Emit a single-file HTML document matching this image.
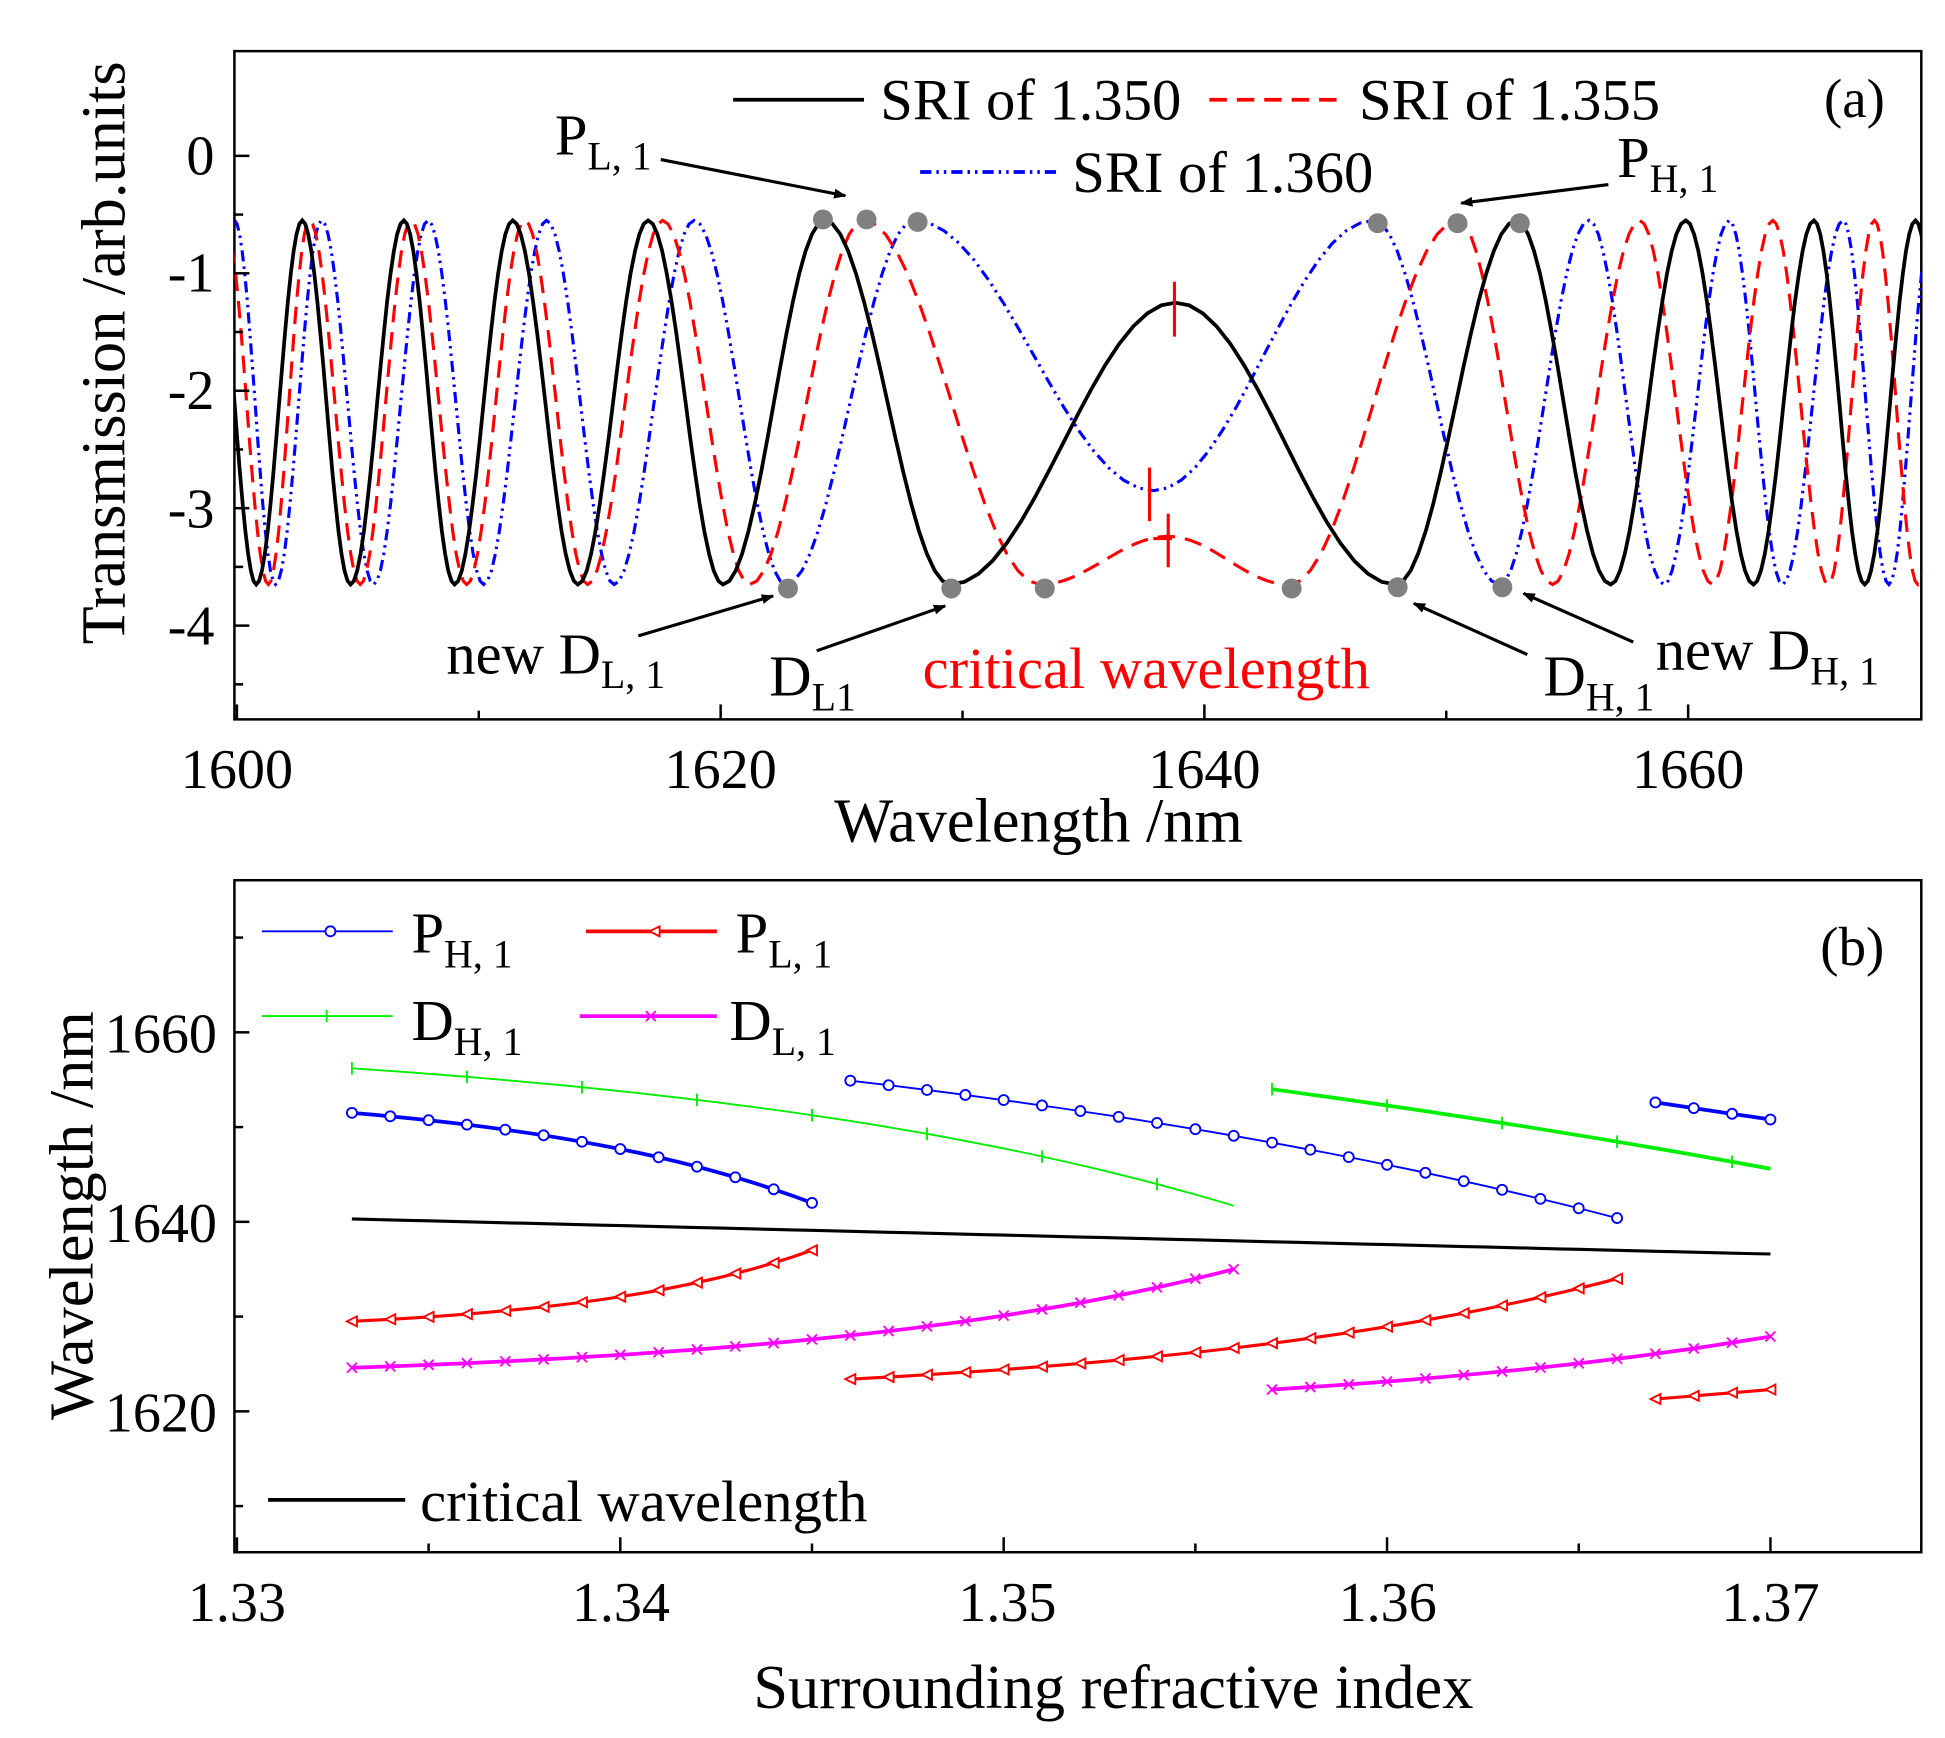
<!DOCTYPE html>
<html><head><meta charset="utf-8">
<style>
html,body{margin:0;padding:0;background:#fff;}
svg{display:block;font-family:"Liberation Serif","Times New Roman",serif;}
svg text{font-family:"Liberation Serif","Times New Roman",serif;}
</style></head>
<body>
<svg id="s" width="1945" height="1738" viewBox="0 0 1560 1394" xmlns="http://www.w3.org/2000/svg" font-family="Liberation Serif, serif">
<defs>
<clipPath id="ca"><rect x="188" y="41" width="1353" height="536"/></clipPath>
<marker id="ah" markerWidth="10" markerHeight="8" refX="9" refY="4" orient="auto" markerUnits="userSpaceOnUse"><path d="M0,0 L10,4 L0,8 z" fill="#000"/></marker>
</defs>
<rect x="0" y="0" width="1560" height="1394" fill="#fff"/>
<rect x="188" y="41" width="1353" height="536" fill="none" stroke="#000" stroke-width="2"/>
<g id="a_curves" clip-path="url(#ca)"></g>
<g id="a_ticks" stroke="#000" stroke-width="2"></g>
<g font-size="45" text-anchor="end">
<text x="172" y="140">0</text><text x="172" y="234">-1</text><text x="172" y="328">-2</text><text x="172" y="423">-3</text><text x="172" y="517">-4</text>
</g>
<g font-size="45" text-anchor="middle">
<text x="190" y="632">1600</text><text x="578" y="632">1620</text><text x="966" y="632">1640</text><text x="1354" y="632">1660</text>
</g>
<text x="833" y="675" font-size="50" text-anchor="middle">Wavelength /nm</text>
<text font-size="50" text-anchor="middle" transform="translate(100,283) rotate(-90)">Transmission /arb.units</text>
<line x1="588" y1="80" x2="693" y2="80" stroke="#000" stroke-width="3"/>
<text x="706" y="96" font-size="47">SRI of 1.350</text>
<line x1="970" y1="80" x2="1075" y2="80" stroke="#f00" stroke-width="3" stroke-dasharray="14,8"/>
<text x="1090" y="96" font-size="47">SRI of 1.355</text>
<line x1="738" y1="138" x2="848" y2="138" stroke="#00f" stroke-width="3" stroke-dasharray="9,4,2,4,2,4"/>
<text x="860" y="154" font-size="47">SRI of 1.360</text>
<text x="1463" y="94" font-size="44">(a)</text>
<g stroke="#f00" stroke-width="2.5">
<line x1="942" y1="226" x2="942" y2="270"/>
<line x1="922" y1="375" x2="922" y2="418"/>
<line x1="937" y1="412" x2="937" y2="455"/>
<line x1="925" y1="432" x2="940" y2="432"/>
</g>
<g fill="#808080">
<circle cx="660" cy="176" r="8"/><circle cx="695" cy="176" r="8"/><circle cx="736" cy="178" r="8"/>
<circle cx="632" cy="472" r="8"/><circle cx="763" cy="472" r="8"/><circle cx="838" cy="472" r="8"/>
<circle cx="1036" cy="472" r="8"/><circle cx="1121" cy="471" r="8"/><circle cx="1205" cy="471" r="8"/>
<circle cx="1105" cy="179" r="8"/><circle cx="1169" cy="179" r="8"/><circle cx="1219" cy="179" r="8"/>
</g>
<g stroke="#000" stroke-width="2.5" marker-end="url(#ah)">
<line x1="530" y1="128" x2="678" y2="157"/>
<line x1="1290" y1="148" x2="1172" y2="163"/>
<line x1="512" y1="510" x2="620" y2="478"/>
<line x1="655" y1="522" x2="758" y2="486"/>
<line x1="1225" y1="525" x2="1134" y2="484"/>
<line x1="1310" y1="515" x2="1222" y2="476"/>
</g>
<g font-size="47">
<text x="445" y="124">P<tspan font-size="32" dy="12">L, 1</tspan></text>
<text x="1297" y="142">P<tspan font-size="32" dy="12">H, 1</tspan></text>
<text x="358" y="540">new D<tspan font-size="32" dy="12">L, 1</tspan></text>
<text x="617" y="558">D<tspan font-size="32" dy="12">L1</tspan></text>
<text x="740" y="552" fill="#f00">critical wavelength</text>
<text x="1238" y="558">D<tspan font-size="32" dy="12">H, 1</tspan></text>
<text x="1328" y="537">new D<tspan font-size="32" dy="12">H, 1</tspan></text>
</g>
<rect x="188" y="706" width="1353" height="539" fill="none" stroke="#000" stroke-width="2"/>
<g id="b_ticks" stroke="#000" stroke-width="2"></g>
<g id="b_curves"></g>
<g font-size="45" text-anchor="end">
<text x="174" y="844">1660</text><text x="174" y="996">1640</text><text x="174" y="1148">1620</text>
</g>
<g font-size="45" text-anchor="middle">
<text x="190" y="1300">1.33</text><text x="498" y="1300">1.34</text><text x="808" y="1300">1.35</text><text x="1113" y="1300">1.36</text><text x="1420" y="1300">1.37</text>
</g>
<text x="893" y="1370" font-size="50" text-anchor="middle">Surrounding refractive index</text>
<text font-size="50" text-anchor="middle" transform="translate(74,975) rotate(-90)">Wavelength /nm</text>
<text x="1460" y="774" font-size="44">(b)</text>
<g id="b_leg"></g>
<g font-size="47">
<text x="330" y="764">P<tspan font-size="32" dy="12">H, 1</tspan></text>
<text x="590" y="764">P<tspan font-size="32" dy="12">L, 1</tspan></text>
<text x="330" y="834">D<tspan font-size="32" dy="12">H, 1</tspan></text>
<text x="585" y="834">D<tspan font-size="32" dy="12">L, 1</tspan></text>
<text x="337" y="1220">critical wavelength</text>
</g>
<line x1="215" y1="1203" x2="325" y2="1203" stroke="#000" stroke-width="3"/>
</svg>
<script>
(function(){
var NS="http://www.w3.org/2000/svg";
function el(p,tag,at){var e=document.createElementNS(NS,tag);for(var k in at)e.setAttribute(k,at[k]);p.appendChild(e);return e;}
var X=function(l){return 190+(l-1600)*19.4;}, Y=function(v){return 125-v*94.2;};
var T=-0.55,B=-3.65;
var blk=[[1599.0,T],[1600.8,B],[1602.7,T],[1604.7,B],[1606.9,T],[1609.0,B],[1611.4,T],[1614.1,B],[1617.0,T],[1620.1,B],[1624.3,T],[1629.5,B],[1638.8,-1.25],[1647.9,B],[1652.9,T],[1656.8,B],[1659.9,T],[1662.7,B],[1665.2,T],[1667.3,B],[1669.4,T],[1671.3,B]];
var red=[[1599.5,T],[1601.3,B],[1603.0,T],[1605.1,B],[1607.2,T],[1609.5,B],[1611.9,T],[1614.5,B],[1617.6,T],[1621.2,B],[1625.9,T],[1633.2,B],[1638.5,-3.24],[1643.5,B],[1650.5,T],[1654.4,B],[1658.0,T],[1661.0,B],[1663.5,T],[1665.8,B],[1667.7,T],[1669.5,B],[1671.3,T]];
var blu=[[1599.9,T],[1601.6,B],[1603.5,T],[1605.65,B],[1607.9,T],[1610.2,B],[1612.8,T],[1615.6,B],[1618.9,T],[1622.7,B],[1628.0,T],[1637.9,-2.85],[1647.0,T],[1652.2,B],[1655.9,T],[1659.0,B],[1661.7,T],[1663.9,B],[1666.4,T],[1668.3,B],[1670.1,T]];
function path(ext){var d="";for(var i=0;i<ext.length-1;i++){var a=ext[i],b=ext[i+1];for(var j=0;j<=16;j++){var t=j/16;var l=a[0]+(b[0]-a[0])*t;var v=a[1]+(b[1]-a[1])*(1-Math.cos(Math.PI*t))/2;d+=(d?"L":"M")+X(l).toFixed(1)+","+Y(v).toFixed(1);}}return d;}
var g=document.getElementById("a_curves");
el(g,"path",{d:path(blu),fill:"none",stroke:"#00f","stroke-width":2.5,"stroke-dasharray":"9,4,2,4,2,4"});
el(g,"path",{d:path(red),fill:"none",stroke:"#f00","stroke-width":2.5,"stroke-dasharray":"14,8"});
el(g,"path",{d:path(blk),fill:"none",stroke:"#000","stroke-width":3});
var tk=document.getElementById("a_ticks");
for(var v=0;v>=-4;v--){el(tk,"line",{x1:188,y1:Y(v),x2:200,y2:Y(v)});el(tk,"line",{x1:188,y1:Y(v-0.5),x2:195,y2:Y(v-0.5)});}
for(var l=1600;l<=1660;l+=10){var big=(l%20==0);el(tk,"line",{x1:X(l),y1:577,x2:X(l),y2:big?565:570});}
var XB=function(n){return 190+(n-1.33)*30750;}, YB=function(w){return 980-(w-1640)*7.6;};
var bt=document.getElementById("b_ticks");
for(var w=1620;w<=1660;w+=20){el(bt,"line",{x1:188,y1:YB(w),x2:200,y2:YB(w)});el(bt,"line",{x1:188,y1:YB(w+10),x2:195,y2:YB(w+10)});}
el(bt,"line",{x1:188,y1:YB(1610),x2:195,y2:YB(1610)});
for(var n=0;n<=8;n++){var xx=XB(1.33+n*0.005);el(bt,"line",{x1:xx,y1:1245,x2:xx,y2:(n%2==0)?1233:1238});}
var gb=document.getElementById("b_curves");
function f(t,c){return Math.abs(c)<1e-6?t:(Math.exp(c*t)-1)/(Math.exp(c)-1);}
function seg(n0,n1,w0,w1,c,col,sw,mk,step){var pts=[];var N=Math.round((n1-n0)/0.0005);for(var i=0;i<=N;i++){var t=i/N;var n=n0+(n1-n0)*t;pts.push([XB(n),YB(w0+(w1-w0)*f(t,c))]);}
var d=pts.map(function(p,i){return (i?"L":"M")+p[0].toFixed(1)+","+p[1].toFixed(1);}).join("");
el(gb,"path",{d:d,fill:"none",stroke:col,"stroke-width":sw});
for(var i=0;i<pts.length;i+=step)marker(gb,mk,pts[i][0],pts[i][1],col);}
function marker(p,mk,x,y,col){
if(mk=="o")el(p,"circle",{cx:x,cy:y,r:4,fill:"#fff",stroke:col,"stroke-width":1.5});
else if(mk=="<")el(p,"path",{d:"M"+(x-4)+","+y+"L"+(x+4)+","+(y-4)+"L"+(x+4)+","+(y+4)+"Z",fill:"#fff",stroke:col,"stroke-width":1.5});
else if(mk=="+"){el(p,"path",{d:"M"+x+","+(y-5)+"V"+(y+5),stroke:col,"stroke-width":1.5});}
else if(mk=="x")el(p,"path",{d:"M"+(x-4)+","+(y-4)+"L"+(x+4)+","+(y+4)+"M"+(x-4)+","+(y+4)+"L"+(x+4)+","+(y-4),stroke:col,"stroke-width":1.5});}
seg(1.333,1.370,1640.3,1636.6,0,"#000",2.5,null,999);
seg(1.333,1.356,1656.2,1641.7,1.5,"#0e0",1.5,"+",6);
seg(1.357,1.370,1654.0,1645.6,0.3,"#0e0",3,"+",6);
seg(1.333,1.345,1651.5,1642.0,1.5,"#00f",3,"o",2);
seg(1.346,1.366,1654.9,1640.4,0.8,"#00f",1.5,"o",2);
seg(1.367,1.370,1652.6,1650.8,0,"#00f",3,"o",2);
seg(1.333,1.345,1629.5,1637.0,2,"#f00",2.5,"<",2);
seg(1.346,1.366,1623.4,1634.0,1.6,"#f00",2.5,"<",2);
seg(1.367,1.370,1621.3,1622.3,0,"#f00",2.5,"<",2);
seg(1.333,1.356,1624.6,1635.0,2,"#f0f",3,"x",2);
seg(1.357,1.370,1622.3,1627.9,1,"#f0f",3,"x",2);
var lg=document.getElementById("b_leg");
el(lg,"line",{x1:210,y1:747,x2:315,y2:747,stroke:"#00f","stroke-width":1.5});marker(lg,"o",265,747,"#00f");
el(lg,"line",{x1:470,y1:747,x2:575,y2:747,stroke:"#f00","stroke-width":3});marker(lg,"<",525,747,"#f00");
el(lg,"line",{x1:210,y1:815,x2:315,y2:815,stroke:"#0e0","stroke-width":1.5});marker(lg,"+",262,815,"#0e0");
el(lg,"line",{x1:465,y1:815,x2:575,y2:815,stroke:"#f0f","stroke-width":3});marker(lg,"x",522,815,"#f0f");
})();
</script>
</body></html>
